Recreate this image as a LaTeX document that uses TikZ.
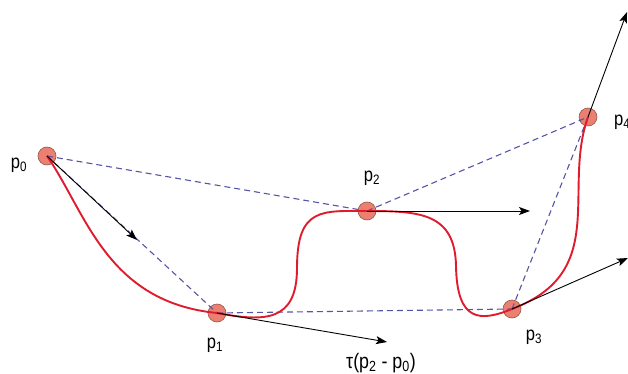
\documentclass[tikz,border=0pt]{standalone}
\usepackage{fontspec}
\setmainfont{Liberation Sans}[FakeStretch=0.85]
\usetikzlibrary{arrows.meta}
\definecolor{curvered}{RGB}{222,28,45}
\definecolor{ptfill}{RGB}{236,128,112}
\definecolor{ptdraw}{RGB}{150,85,75}
\definecolor{dashblue}{RGB}{85,85,165}
\tikzset{
  pt/.style={circle,fill=ptfill,draw=ptdraw,line width=0.6pt,minimum size=18pt,inner sep=0pt},
  lbl/.style={font=\fontsize{19.5}{22}\selectfont,inner sep=0pt},
  guide/.style={dashblue,line width=1.1pt,dash pattern=on 6pt off 4pt},
  spline/.style={curvered,line width=1.9pt},
  tangent/.style={black,line width=0.9pt,-{Stealth[length=11pt,width=8pt,inset=2.5pt]}}
}
\begin{document}
\begin{tikzpicture}[x=1pt,y=-1pt]
\useasboundingbox (0,0) rectangle (628,374);
\clip (0,0) rectangle (628,374);
% points
\node[pt] (p0) at (47,156) {};
\node[pt] (p1) at (217,313) {};
\node[pt] (p2) at (367,211) {};
\node[pt] (p3) at (512,309) {};
\node[pt] (p4) at (588,117) {};
% labels
\node[lbl] (l0) at (19,165) {p\textsubscript{0}};
\node[lbl] (l1) at (215,345) {p\textsubscript{1}};
\node[lbl] (l2) at (372,178) {p\textsubscript{2}};
\node[lbl] (l3) at (534,337) {p\textsubscript{3}};
\node[lbl,anchor=west] (l4) at (614,122) {p\textsubscript{4}};
\node[lbl,font=\fontsize{21}{24}\selectfont] (lt) at (381,363) {τ(p\textsubscript{2} - p\textsubscript{0})};
% guide lines
\draw[guide] (p0.center) -- (p1.center);
\draw[guide] (p0.center) -- (p2.center);
\draw[guide] (p1.center) -- (p3.center);
\draw[guide] (p2.center) -- (p4.center);
\draw[guide] (p3.center) -- (p4.center);
% curve
\coordinate (m1) at (297,268);
\coordinate (m2) at (456,266);
\draw[spline] (p0.center) .. controls (86,212) and (106,302) .. (p1.center)
  .. controls (265,322) and (297,322) .. (m1)
  .. controls (297,207) and (322,211) .. (p2.center)
  .. controls (420,211) and (455,213) .. (m2)
  .. controls (457,322) and (480,322) .. (p3.center)
  .. controls (610,272) and (562,190) .. (p4.center);
% tangent arrows
\coordinate (t0) at (137,240);
\coordinate (t1) at (387,342);
\coordinate (t2) at (530,211);
\coordinate (t3) at (628,258);
\coordinate (t4) at (627,12);
\draw[tangent] (p0.center) -- (t0);
\draw[tangent] (p1.center) -- (t1);
\draw[tangent] (p2.center) -- (t2);
\draw[tangent] (p3.center) -- (t3);
\draw[tangent] (p4.center) -- (t4);
\end{tikzpicture}
\end{document}
